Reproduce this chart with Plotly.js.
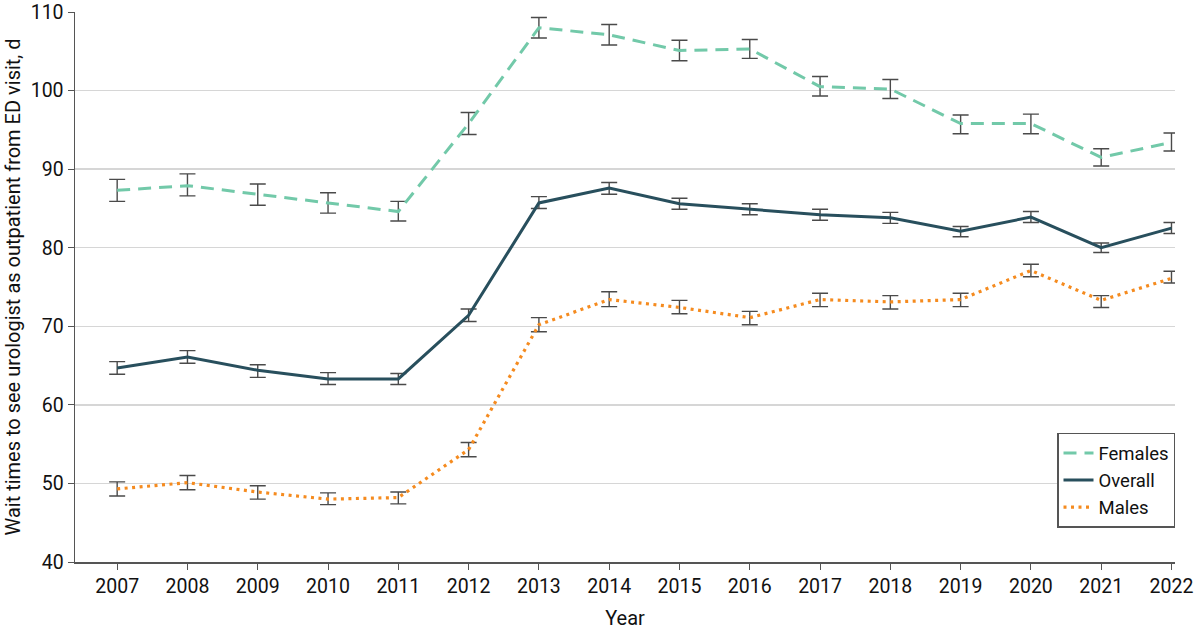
<!DOCTYPE html>
<html>
<head>
<meta charset="utf-8">
<script src="https://cdn.plot.ly/plotly-3.0.1.min.js"></script>
<style>
  html, body { margin: 0; padding: 0; background: #fff; }
  #chart { width: 1200px; height: 630px; }
</style>
</head>
<body>
<div id="chart"></div>
<script>
var years = [2007, 2008, 2009, 2010, 2011, 2012, 2013, 2014, 2015, 2016, 2017, 2018, 2019, 2020, 2021, 2022];

// females
var femalesMean = [87.3, 87.9, 86.8, 85.7, 84.6, 95.8, 108.0, 107.1, 105.1, 105.3, 100.5, 100.2, 95.8, 95.8, 91.5, 93.4];
var femalesHigh = [88.7, 89.4, 88.1, 87.0, 85.9, 97.2, 109.3, 108.4, 106.4, 106.5, 101.8, 101.4, 96.9, 97.0, 92.6, 94.6];
var femalesLow  = [85.9, 86.6, 85.4, 84.4, 83.4, 94.4, 106.7, 105.8, 103.8, 104.1, 99.3, 99.0, 94.5, 94.5, 90.4, 92.3];

// overall
var overallMean = [64.7, 66.1, 64.4, 63.3, 63.3, 71.4, 85.7, 87.6, 85.6, 84.9, 84.2, 83.8, 82.1, 83.9, 80.0, 82.5];
var overallHigh = [65.5, 66.9, 65.1, 64.1, 64.0, 72.2, 86.5, 88.3, 86.3, 85.6, 84.9, 84.5, 82.7, 84.6, 80.6, 83.2];
var overallLow  = [63.9, 65.3, 63.5, 62.6, 62.6, 70.6, 85.0, 86.8, 84.9, 84.2, 83.5, 83.1, 81.4, 83.2, 79.4, 81.8];

// males
var malesMean = [49.3, 50.1, 48.9, 48.0, 48.2, 54.3, 70.2, 73.4, 72.4, 71.1, 73.4, 73.1, 73.4, 77.1, 73.3, 76.1];
var malesHigh = [50.2, 51.0, 49.7, 48.8, 48.9, 55.2, 71.1, 74.4, 73.3, 71.9, 74.2, 73.9, 74.2, 77.9, 73.9, 77.0];
var malesLow  = [48.4, 49.2, 48.0, 47.3, 47.4, 53.4, 69.3, 72.5, 71.6, 70.2, 72.5, 72.2, 72.5, 76.3, 72.4, 75.5];

function errBars(mean, high, low) {
  return {
    type: 'data',
    symmetric: false,
    array: high.map(function (h, i) { return h - mean[i]; }),
    arrayminus: low.map(function (l, i) { return mean[i] - l; }),
    color: '#4a4a4a',
    thickness: 1.4,
    width: 8
  };
}

var trace1 = {
  x: years, y: femalesMean, name: 'Females',
  type: 'scatter', mode: 'lines',
  line: { color: '#72c9a9', width: 3, dash: '13px,8px' },
  error_y: errBars(femalesMean, femalesHigh, femalesLow)
};
var trace2 = {
  x: years, y: overallMean, name: 'Overall',
  type: 'scatter', mode: 'lines',
  line: { color: '#284f5d', width: 3 },
  error_y: errBars(overallMean, overallHigh, overallLow)
};
var trace3 = {
  x: years, y: malesMean, name: 'Males',
  type: 'scatter', mode: 'lines',
  line: { color: '#f58b1f', width: 3.2, dash: '3px,4.5px' },
  error_y: errBars(malesMean, malesHigh, malesLow)
};

var layout = {
  width: 1200, height: 630,
  margin: { l: 75, r: 25, t: 12, b: 68 },
  paper_bgcolor: '#fff', plot_bgcolor: '#fff',
  font: { family: 'Roboto, "Noto Sans", sans-serif', size: 19.5, color: '#111' },
  showlegend: true,
  legend: {
    x: 1, xanchor: 'right', y: 0.062, yanchor: 'bottom',
    bgcolor: '#fff', bordercolor: '#555', borderwidth: 1.5,
    font: { size: 18.5 }, traceorder: 'normal', tracegroupgap: 0
  },
  xaxis: {
    range: [2006.4, 2022.05],
    tickvals: years,
    ticktext: years.map(String),
    showgrid: false, zeroline: false,
    showline: true, linecolor: '#555', linewidth: 1.5,
    ticks: 'outside', ticklen: 6, tickcolor: '#555',
    title: { text: 'Year', font: { size: 20 }, standoff: 15 }
  },
  yaxis: {
    range: [40, 110],
    tickvals: [40, 50, 60, 70, 80, 90, 100, 110],
    showgrid: true, gridcolor: '#d6d6d6', gridwidth: 1.3, zeroline: false,
    showline: true, linecolor: '#555', linewidth: 1.5,
    ticks: 'outside', ticklen: 6, tickcolor: '#555',
    title: { text: 'Wait times to see urologist as outpatient from ED visit, d', font: { size: 20 }, standoff: 4 }
  }
};

Plotly.newPlot('chart', [trace1, trace2, trace3], layout, { displayModeBar: false, staticPlot: true });
</script>
</body>
</html>
